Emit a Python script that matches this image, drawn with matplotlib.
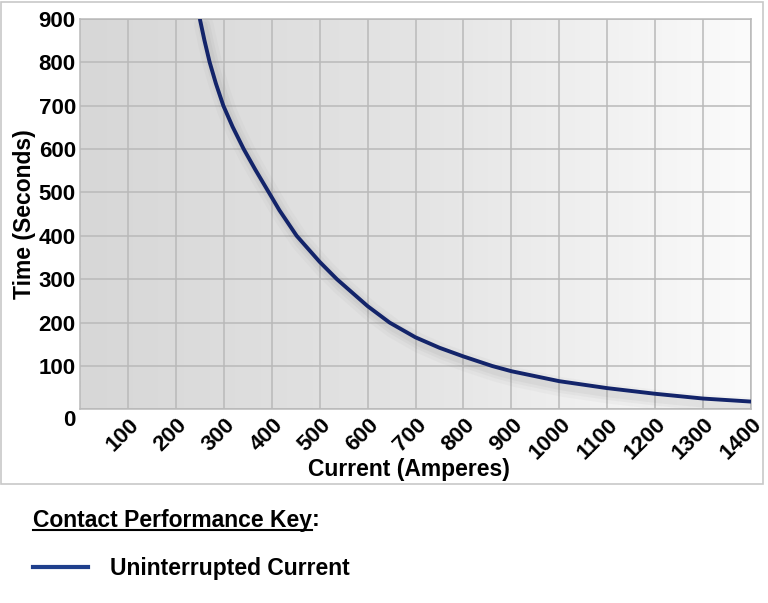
import numpy as np
import matplotlib
matplotlib.use("Agg")
import matplotlib.pyplot as plt
from matplotlib.patches import Rectangle
from matplotlib.lines import Line2D
from matplotlib.transforms import ScaledTranslation

plt.rcParams["font.family"] = ["Liberation Sans", "DejaVu Sans"]

# --- data ---
current = [250, 259.5, 270.5, 283.5, 299, 318.5, 341.5, 366, 394, 416, 452,
           500, 536, 600, 646, 700, 750, 800, 860, 900, 1000, 1100, 1200,
           1300, 1400]
seconds = [900, 851, 800, 751, 700, 651, 600, 552, 500, 459, 400,
           340, 300, 238, 200, 166, 142, 122, 100, 88, 65, 49, 36,
           25, 18]
x_ticks = list(range(100, 1500, 100))
y_ticks = list(range(0, 1000, 100))

curve_color = "#13246a"
key_color = "#1f3f8c"

W, H = 768, 603
fig = plt.figure(figsize=(W / 100, H / 100), dpi=100)

# outer frame of the chart panel
fig.patches.append(Rectangle((1 / W, 1 - 484 / H), 762 / W, 482 / H,
                             transform=fig.transFigure, fill=False,
                             edgecolor="#c8c8c8", linewidth=1.2))

ax = fig.add_axes([80 / W, 1 - 409.4 / H, 671 / W, 390.6 / H])
ax.set_xlim(0, 1400)
ax.set_ylim(0, 900)

# grey -> white gradient background
grad = np.linspace(0, 1, 256).reshape(1, -1)
ax.imshow(grad, extent=[0, 1400, 0, 900], aspect="auto", zorder=0,
          cmap=matplotlib.colors.LinearSegmentedColormap.from_list(
              "bg", ["#d7d7d7", "#e4e4e4", "#fbfbfb"]))

ax.set_xticks(x_ticks)
ax.set_yticks(y_ticks)
ax.grid(True, color="#b9b9b9", linewidth=1.1, zorder=1)
ax.set_axisbelow(True)
for sp in ax.spines.values():
    sp.set_color("#b9b9b9")
    sp.set_linewidth(1.1)
ax.tick_params(length=0, pad=3)

ax.set_yticklabels([str(v) for v in y_ticks], fontsize=16, fontweight="bold")
ax.set_xticklabels([str(v) for v in x_ticks], fontsize=16, fontweight="bold")

# rotated x labels, anchored at their upper-right end
for lbl in ax.get_xticklabels():
    lbl.set_rotation(45)
    lbl.set_rotation_mode("anchor")
    lbl.set_ha("right")
    lbl.set_va("center")
    lbl.set_transform(lbl.get_transform() +
                      ScaledTranslation(8 / 100, -8 / 100, fig.dpi_scale_trans))

# the "0" label sits a little below the axis
zero = ax.get_yticklabels()[0]
zero.set_transform(zero.get_transform() +
                   ScaledTranslation(0, -9 / 100, fig.dpi_scale_trans))

# soft shadow under the curve
for lw, a in [(14, 0.04), (9, 0.05), (5, 0.06)]:
    ax.plot(current, seconds, color="#606060", linewidth=lw, alpha=a,
            solid_capstyle="round", zorder=2,
            transform=ax.transData + ScaledTranslation(4 / 100, -6 / 100, fig.dpi_scale_trans))

ax.plot(current, seconds, color=curve_color, linewidth=2.8, zorder=3,
        solid_capstyle="butt", solid_joinstyle="round")

ax.set_xlabel("Current (Amperes)", fontsize=16.5, fontweight="bold")
ax.set_ylabel("Time (Seconds)", fontsize=16.5, fontweight="bold")
ax.xaxis.set_label_coords(0.49, -0.125)
ax.yaxis.set_label_coords(-0.066, 0.5)

# key below the chart
head = fig.text(33 / W, 1 - 520 / H, "Contact Performance Key", fontsize=16.5,
                fontweight="bold", ha="left", va="center")
fig.canvas.draw()
bb = head.get_window_extent()
fig.text(bb.x1 / W, 1 - 520 / H, ":", fontsize=16.5, fontweight="bold",
         ha="left", va="center")
fig.add_artist(Line2D([33 / W, bb.x1 / W], [1 - 530 / H, 1 - 530 / H],
                      transform=fig.transFigure, color="black", linewidth=1.5))

fig.add_artist(Line2D([33 / W, 88 / W], [1 - 567 / H, 1 - 567 / H],
                      transform=fig.transFigure, color=key_color, linewidth=3))
fig.text(110 / W, 1 - 568 / H, "Uninterrupted Current", fontsize=16.5,
         fontweight="bold", ha="left", va="center")

fig.savefig("out.png", dpi=100)
